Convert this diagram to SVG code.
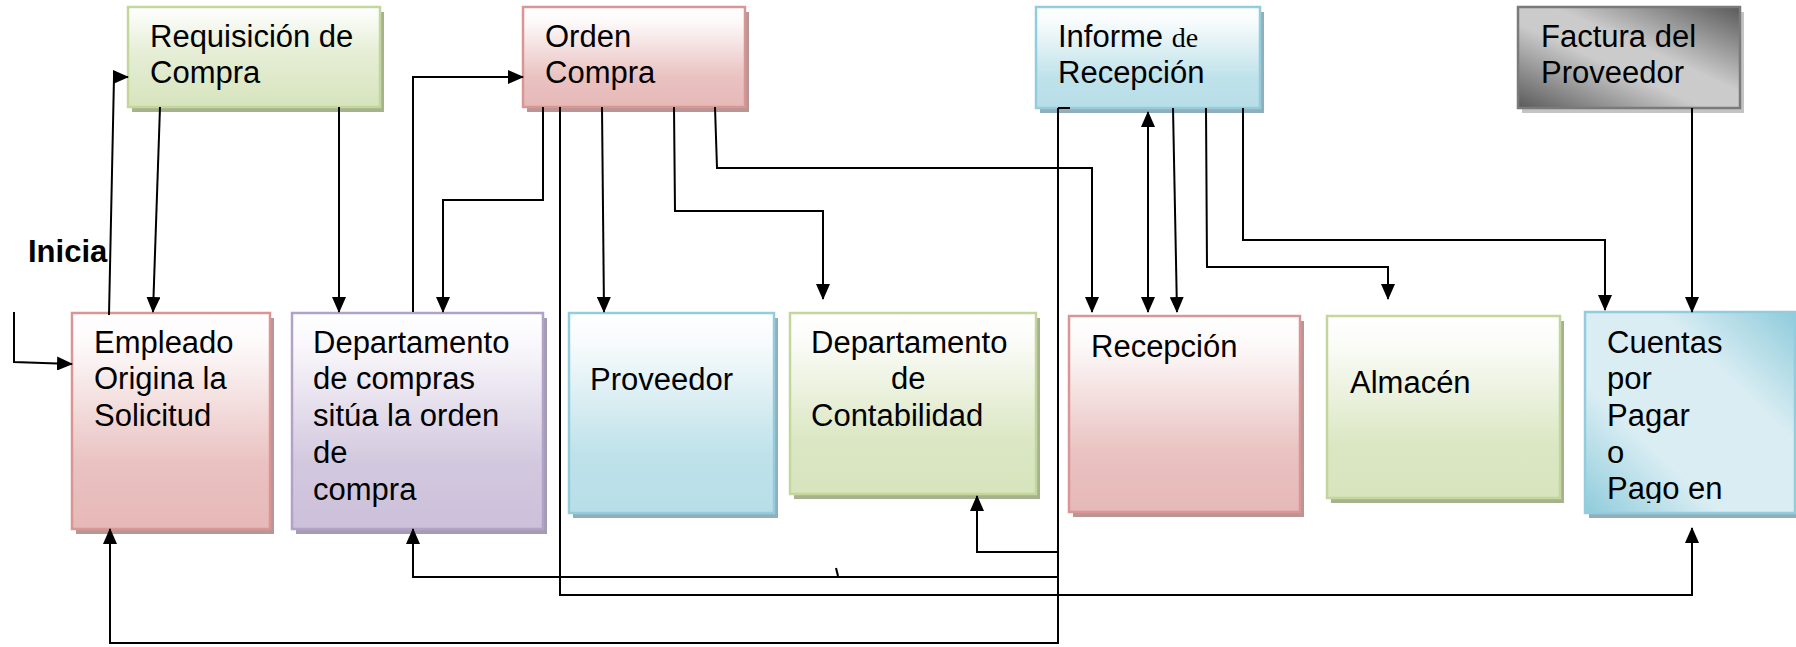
<svg xmlns="http://www.w3.org/2000/svg" width="1796" height="647" viewBox="0 0 1796 647">
<style>
.t{font-family:"Liberation Sans",Arial,sans-serif;font-size:31px;fill:#000}
.b{font-weight:bold}
.c{fill:none;stroke:#000;stroke-width:2}
.a{marker-end:url(#ah)}
.red{fill:url(#gRed);stroke:#d99694;stroke-width:2.5}
.grn{fill:url(#gGrn);stroke:#c3d69b;stroke-width:2.5}
.pur{fill:url(#gPur);stroke:#b3a2c7;stroke-width:2.5}
.blu{fill:url(#gBlu);stroke:#93cddd;stroke-width:2.5}
.sRed{fill:#b99595}
.sGrn{fill:#a6b28d}
.sPur{fill:#a59bb3}
.sBlu{fill:#8fb0ba}
.sGry{fill:#c4c4c4}
</style>
<defs>
<marker id="ah" markerWidth="16" markerHeight="14" refX="15" refY="7" orient="auto-start-reverse" markerUnits="userSpaceOnUse">
<path d="M0,0 L16,7 L0,14 z" fill="#000"/>
</marker>
<linearGradient id="gRed" x1="0" y1="0" x2="0" y2="1">
<stop offset="0" stop-color="#ffffff"/><stop offset="0.15" stop-color="#fdf9f9"/><stop offset="0.7" stop-color="#e9c2c1"/><stop offset="1" stop-color="#e6b9b8"/>
</linearGradient>
<linearGradient id="gGrn" x1="0" y1="0" x2="0" y2="1">
<stop offset="0" stop-color="#ffffff"/><stop offset="0.15" stop-color="#fbfcf8"/><stop offset="0.7" stop-color="#dbe7c4"/><stop offset="1" stop-color="#d7e4bd"/>
</linearGradient>
<linearGradient id="gGrn2" x1="0" y1="0" x2="0" y2="1">
<stop offset="0" stop-color="#ffffff"/><stop offset="0.45" stop-color="#e6eed6"/><stop offset="1" stop-color="#d7e4bd"/>
</linearGradient>
<linearGradient id="gPur" x1="0" y1="0" x2="0" y2="1">
<stop offset="0" stop-color="#ffffff"/><stop offset="0.15" stop-color="#f9f7fb"/><stop offset="0.7" stop-color="#d2c8de"/><stop offset="1" stop-color="#ccc0da"/>
</linearGradient>
<linearGradient id="gBlu" x1="0" y1="0" x2="0" y2="1">
<stop offset="0" stop-color="#ffffff"/><stop offset="0.15" stop-color="#f7fbfc"/><stop offset="0.7" stop-color="#bfe2ea"/><stop offset="1" stop-color="#b7dee8"/>
</linearGradient>
<linearGradient id="gCta" x1="1" y1="0" x2="0" y2="1">
<stop offset="0" stop-color="#8fcbdb"/><stop offset="0.32" stop-color="#d9edf3"/><stop offset="0.68" stop-color="#d9edf3"/><stop offset="1" stop-color="#8fcbdb"/>
</linearGradient>
<linearGradient id="gFac" x1="1" y1="0" x2="0" y2="1">
<stop offset="0" stop-color="#5a5a5a"/><stop offset="0.42" stop-color="#cbcbcb"/><stop offset="0.58" stop-color="#cbcbcb"/><stop offset="1" stop-color="#5a5a5a"/>
</linearGradient>
<clipPath id="clipCta"><rect x="1585" y="312" width="211" height="191"/></clipPath>
</defs>
<rect width="1796" height="647" fill="#fff"/>

<g id="requisicion">
<rect class="sGrn" x="132" y="12" width="252" height="100"/>
<rect x="128" y="7" width="252" height="100" fill="url(#gGrn2)" stroke="#c3d69b" stroke-width="2.5"/>
<text class="t" x="150" y="47">Requisición de</text>
<text class="t" x="150" y="83">Compra</text>
</g>
<g id="orden">
<rect class="sRed" x="527" y="12" width="222" height="100"/>
<rect class="red" x="523" y="7" width="222" height="100"/>
<text class="t" x="545" y="47">Orden</text>
<text class="t" x="545" y="83">Compra</text>
</g>
<g id="informe">
<rect class="sBlu" x="1040" y="12" width="224" height="101"/>
<rect class="blu" x="1036" y="7" width="224" height="101"/>
<text class="t" x="1058" y="47">Informe <tspan style="font-family:'Liberation Serif','Times New Roman',serif;font-size:28px">de</tspan></text>
<text class="t" x="1058" y="83">Recepción</text>
</g>
<g id="factura">
<rect class="sGry" x="1522" y="12" width="222" height="101"/>
<rect x="1518" y="7" width="222" height="101" fill="url(#gFac)" stroke="#7a7a7a" stroke-width="2.5"/>
<text class="t" x="1541" y="47">Factura del</text>
<text class="t" x="1541" y="83">Proveedor</text>
</g>
<g id="empleado">
<rect class="sRed" x="76" y="318" width="198" height="216"/>
<rect class="red" x="72" y="313" width="198" height="216"/>
<text class="t" x="94" y="353">Empleado</text>
<text class="t" x="94" y="389">Origina la</text>
<text class="t" x="94" y="426">Solicitud</text>
</g>
<g id="departamento-compras">
<rect class="sPur" x="296" y="318" width="251" height="216"/>
<rect class="pur" x="292" y="313" width="251" height="216"/>
<text class="t" x="313" y="353">Departamento</text>
<text class="t" x="313" y="389">de compras</text>
<text class="t" x="313" y="426">sitúa la orden</text>
<text class="t" x="313" y="463">de</text>
<text class="t" x="313" y="500">compra</text>
</g>
<g id="proveedor">
<rect class="sBlu" x="573" y="318" width="205" height="200"/>
<rect class="blu" x="569" y="313" width="205" height="200"/>
<text class="t" x="590" y="390">Proveedor</text>
</g>
<g id="contabilidad">
<rect class="sGrn" x="794" y="318" width="246" height="181"/>
<rect class="grn" x="790" y="313" width="246" height="181"/>
<text class="t" x="811" y="353">Departamento</text>
<text class="t" x="891" y="389">de</text>
<text class="t" x="811" y="426">Contabilidad</text>
</g>
<g id="recepcion">
<rect class="sRed" x="1073" y="321" width="231" height="196"/>
<rect class="red" x="1069" y="316" width="231" height="196"/>
<text class="t" x="1091" y="357">Recepción</text>
</g>
<g id="almacen">
<rect class="sGrn" x="1331" y="321" width="233" height="182"/>
<rect class="grn" x="1327" y="316" width="233" height="182"/>
<text class="t" x="1350" y="393">Almacén</text>
</g>
<g id="cuentas">
<rect class="sBlu" x="1589" y="317" width="210" height="201"/>
<rect x="1585" y="312" width="210" height="201" fill="url(#gCta)" stroke="#93cddd" stroke-width="2.5"/>
<g clip-path="url(#clipCta)">
<text class="t" x="1607" y="353">Cuentas</text>
<text class="t" x="1607" y="389">por</text>
<text class="t" x="1607" y="426">Pagar</text>
<text class="t" x="1607" y="463">o</text>
<text class="t" x="1607" y="499">Pago en</text>
</g>
</g>
<g id="inicia">
<text class="t b" x="28" y="262">Inicia</text>
</g>

<g id="connectors">
<path class="c a" d="M14,312 L14,362 L72,364"/>
<path class="c a" d="M109,315 L114,77 L128,77"/>
<path class="c a" d="M160,107 L153,312"/>
<path class="c a" d="M339,107 L339,312"/>
<path class="c a" d="M413,312 L413,77 L523,77"/>
<path class="c a" d="M543,107 L543,200 L443,200 L443,312"/>
<path class="c a" d="M602,107 L604,312"/>
<path class="c a" d="M674,107 L675,211 L823,211 L823,299"/>
<path class="c a" d="M715,107 L717,168 L1092,168 L1092,312"/>
<path class="c a" d="M560,107 L560,595 L1692,595 L1692,528"/>
<path class="c a" d="M1058,108 L1058,643 L110,643 L110,529"/>
<path class="c a" d="M1058,552 L977,552 L977,496"/>
<path class="c a" d="M1058,577 L413,577 L413,529"/>
<path class="c a" d="M1148,112 L1148,312" marker-start="url(#ah)"/>
<path class="c a" d="M1173,108 L1177,312"/>
<path class="c a" d="M1206,108 L1207,267 L1388,267 L1388,299"/>
<path class="c a" d="M1243,108 L1243,240 L1605,240 L1605,310"/>
<path class="c a" d="M1692,108 L1692,312"/>
<path class="c" d="M836,568 L838,576"/>
<path class="c" d="M1058,108 L1070,108"/>
</g>
</svg>
